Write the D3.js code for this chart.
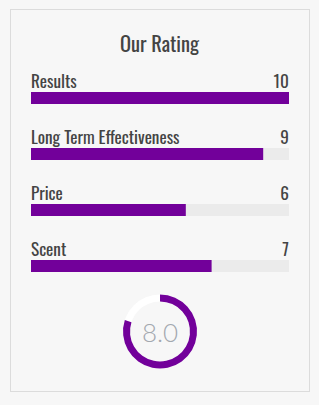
<!DOCTYPE html>
<html>
<head>
<meta charset="utf-8">
<script src="https://cdn.jsdelivr.net/npm/d3@7"></script>
<style>
  body { margin: 0; background: #f7f7f7; }
  .cond { font-family: "Oswald", "Liberation Sans Narrow", "DejaVu Sans Condensed", "Roboto Condensed", sans-serif; font-stretch: condensed; }
</style>
</head>
<body>
<div id="chart-area"></div>
<script>
let categories = ["Results", "Long Term Effectiveness", "Price", "Scent"];
let scores = [10, 9, 6, 7];
let maxScore = 10;
let overall = 8.0;

let width = 319, height = 405;

let svg = d3.select("#chart-area")
    .append("svg")
    .attr("width", width)
    .attr("height", height);

// Card
svg.append("rect")
    .attr("x", 10.5)
    .attr("y", 9.5)
    .attr("width", 299)
    .attr("height", 382)
    .attr("fill", "#f7f7f7")
    .attr("stroke", "#dcdcdc");

// Title
svg.append("text")
    .attr("class", "cond")
    .attr("x", width / 2)
    .attr("y", 52)
    .attr("text-anchor", "middle")
    .attr("font-size", "20.5px")
    .attr("fill", "#444")
    .text("Our Rating");

// Scales
let x = d3.scaleLinear()
    .domain([0, maxScore])
    .range([31, 289]);

let y = d3.scaleBand()
    .domain(categories)
    .range([92, 316])
    .paddingInner(0)
    .align(0);

let rows = svg.selectAll("g.row")
    .data(categories)
    .enter()
    .append("g")
    .attr("class", "row")
    .attr("transform", function (d) {
        return "translate(0," + y(d) + ")";
    });

// Track
rows.append("rect")
    .attr("x", x(0))
    .attr("y", 0)
    .attr("width", x(maxScore) - x(0))
    .attr("height", 12)
    .attr("fill", "#ebebeb");

// Bars
rows.append("rect")
    .attr("x", x(0))
    .attr("y", 0)
    .attr("width", function (d, i) {
        return x(scores[i]) - x(0);
    })
    .attr("height", 12)
    .attr("fill", "#72009a");

// Labels
rows.append("text")
    .attr("class", "cond")
    .attr("x", x(0))
    .attr("y", -4.5)
    .attr("font-size", "17.2px")
    .attr("fill", "#444")
    .text(function (d) { return d; });

rows.append("text")
    .attr("class", "cond")
    .attr("x", x(maxScore))
    .attr("y", -4.5)
    .attr("text-anchor", "end")
    .attr("font-size", "17.2px")
    .attr("fill", "#444")
    .text(function (d, i) { return scores[i]; });

// Donut
let donut = svg.append("g")
    .attr("transform", "translate(160,331.5)");

let arc = d3.arc()
    .innerRadius(30)
    .outerRadius(37)
    .startAngle(0);

donut.append("path")
    .attr("d", arc({endAngle: 2 * Math.PI}))
    .attr("fill", "#ffffff");

donut.append("path")
    .attr("d", arc({endAngle: 2 * Math.PI * overall / maxScore}))
    .attr("fill", "#72009a");

donut.append("text")
    .attr("x", 0)
    .attr("y", 10)
    .attr("text-anchor", "middle")
    .attr("font-family", "Lato, 'Open Sans', sans-serif")
    .attr("font-weight", 300)
    .attr("font-size", "26px")
    .attr("fill", "#a3a8af")
    .text(overall.toFixed(1));
</script>
</body>
</html>
